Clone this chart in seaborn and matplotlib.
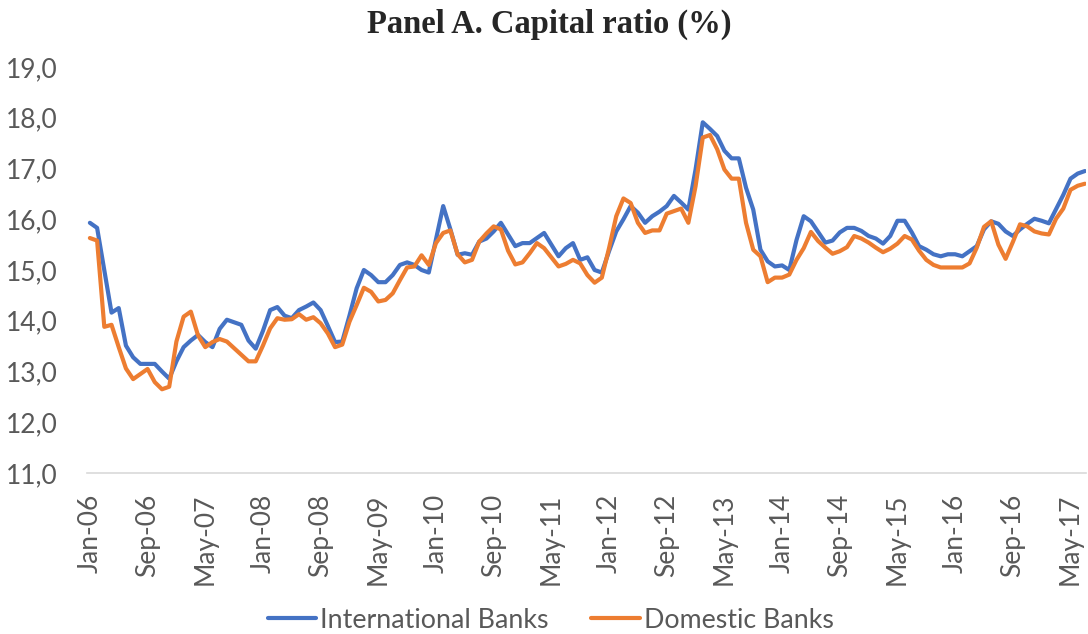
import numpy as np
import pandas as pd
import matplotlib
matplotlib.use("Agg")
import matplotlib.pyplot as plt
import seaborn as sns
from matplotlib.lines import Line2D

# ---- data (monthly, Jan-06 .. Jul-17) ----
months = pd.date_range("2006-01-01", "2017-07-01", freq="MS")

international = [
    15.93, 15.83, 15.00, 14.16, 14.25, 13.51, 13.28, 13.15, 13.15, 13.15,
    13.00, 12.86, 13.20, 13.48, 13.61, 13.72, 13.58, 13.48, 13.84, 14.02,
    13.97, 13.92, 13.61, 13.45, 13.80, 14.21, 14.27, 14.10, 14.05, 14.21,
    14.28, 14.36, 14.21, 13.90, 13.58, 13.59, 14.10, 14.64, 15.00, 14.90,
    14.76, 14.76, 14.90, 15.10, 15.15, 15.10, 15.00, 14.95, 15.60, 16.26,
    15.80, 15.30, 15.33, 15.30, 15.56, 15.62, 15.76, 15.93, 15.70, 15.47,
    15.53, 15.53, 15.63, 15.73, 15.50, 15.27, 15.43, 15.53, 15.20, 15.25,
    15.00, 14.95, 15.37, 15.76, 16.00, 16.26, 16.13, 15.93, 16.06, 16.15,
    16.26, 16.46, 16.33, 16.19, 16.98, 17.91, 17.78, 17.64, 17.35, 17.20,
    17.20, 16.62, 16.19, 15.40, 15.17, 15.07, 15.09, 15.00, 15.59, 16.06,
    15.96, 15.75, 15.54, 15.58, 15.74, 15.83, 15.83, 15.77, 15.67, 15.62,
    15.52, 15.67, 15.97, 15.97, 15.74, 15.47, 15.40, 15.31, 15.27, 15.31,
    15.31, 15.27, 15.37, 15.47, 15.80, 15.96, 15.91, 15.76, 15.67, 15.80,
    15.91, 16.01, 15.97, 15.92, 16.20, 16.48, 16.80, 16.90, 16.95,
]

domestic = [
    15.63, 15.58, 13.88, 13.92, 13.48, 13.06, 12.85, 12.95, 13.05, 12.79,
    12.65, 12.70, 13.59, 14.08, 14.18, 13.71, 13.48, 13.58, 13.64, 13.59,
    13.46, 13.33, 13.20, 13.20, 13.51, 13.85, 14.05, 14.02, 14.03, 14.13,
    14.02, 14.07, 13.95, 13.75, 13.48, 13.53, 13.98, 14.31, 14.65, 14.57,
    14.38, 14.41, 14.54, 14.80, 15.05, 15.07, 15.29, 15.10, 15.53, 15.73,
    15.78, 15.31, 15.15, 15.20, 15.56, 15.72, 15.86, 15.80, 15.38, 15.11,
    15.15, 15.33, 15.53, 15.43, 15.25, 15.07, 15.12, 15.20, 15.13, 14.90,
    14.75, 14.85, 15.43, 16.06, 16.41, 16.32, 15.93, 15.73, 15.78, 15.78,
    16.11, 16.16, 16.21, 15.93, 16.65, 17.61, 17.66, 17.38, 16.98, 16.80,
    16.80, 15.93, 15.40, 15.27, 14.76, 14.85, 14.85, 14.91, 15.20, 15.43,
    15.75, 15.57, 15.44, 15.32, 15.37, 15.45, 15.67, 15.62, 15.54, 15.44,
    15.35, 15.42, 15.52, 15.67, 15.60, 15.38, 15.20, 15.10, 15.05, 15.05,
    15.05, 15.05, 15.13, 15.44, 15.85, 15.96, 15.50, 15.22, 15.55, 15.90,
    15.86, 15.76, 15.72, 15.70, 16.01, 16.21, 16.58, 16.66, 16.70,
]

series_names = ["International Banks", "Domestic Banks"]
colors = ["#4472C4", "#ED7D31"]
month_labels = [d.strftime("%b-%y") for d in months]
tick_step = 8

idx = np.arange(len(months))
df = pd.concat([
    pd.DataFrame({"idx": idx, "value": international, "series": series_names[0]}),
    pd.DataFrame({"idx": idx, "value": domestic, "series": series_names[1]}),
])

sns.set_style("white")
plt.rcParams["font.family"] = ["Lato", "DejaVu Sans"]

fig = plt.figure(figsize=(10.88, 6.34), dpi=100)
ax = fig.add_axes([87 / 1088, 1 - 473 / 634, (1086 - 87) / 1088, (473 - 67) / 634])

sns.lineplot(data=df, x="idx", y="value", hue="series", hue_order=series_names,
             palette=colors, linewidth=3.0, ax=ax, legend=False)

ax.set_xlim(-0.4, len(months) - 0.85)
ax.set_ylim(11, 19)
yt = np.arange(11, 19.5, 1)
ax.set_yticks(yt)
ax.set_yticklabels([f"{v:.1f}".replace(".", ",") for v in yt])
ticks = idx[::tick_step]
ax.set_xticks(ticks)
ax.set_xticklabels([month_labels[i] for i in ticks], rotation=90)
ax.tick_params(axis="both", length=0, labelsize=19, colors="#595959")
ax.tick_params(axis="x", pad=15)
ax.tick_params(axis="y", pad=21)
ax.set_xlabel("")
ax.set_ylabel("")
for s in ["top", "right", "left"]:
    ax.spines[s].set_visible(False)
ax.spines["bottom"].set_color("#D9D9D9")
ax.spines["bottom"].set_linewidth(1.2)
ax.grid(False)

fig.suptitle("Panel A. Capital ratio (%)", x=0.505, y=0.962, fontsize=23.5, fontweight="bold",
             family="Liberation Serif", va="center")

handles = [Line2D([], [], color=c, linewidth=3.0) for c in colors]
fig.legend(handles, series_names, loc="center", bbox_to_anchor=(0.506, 0.022), ncol=2,
           frameon=False, fontsize=19.3, handlelength=1.8, handletextpad=0.15,
           columnspacing=1.6, labelcolor="#595959")

fig.savefig("out.png", dpi=100)
